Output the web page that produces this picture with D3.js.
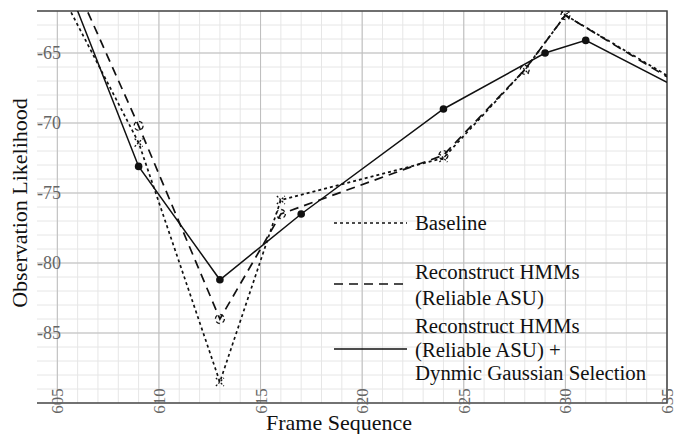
<!DOCTYPE html>
<html>
<head>
<meta charset="utf-8">
<script src="https://cdn.jsdelivr.net/npm/d3@7"></script>
<style>
  body { margin: 0; background: #fff; }
  text { font-family: "Liberation Serif", "DejaVu Serif", serif; }
</style>
</head>
<body>
<div id="chart"></div>
<script>
var svgWidth = 675;
var svgHeight = 434;

var margin = { top: 11, right: 8, bottom: 31, left: 37 };
var width = svgWidth - margin.left - margin.right;
var height = svgHeight - margin.top - margin.bottom;

// Data
var frames = [605, 609, 613, 616, 624, 628, 630, 635];
var baseline = [-60.2, -71.4, -88.5, -75.5, -72.5, -66.2, -62.3, -66.6];
var reconstruct = [-57.2, -70.2, -84.0, -76.5, -72.3, -66.2, -62.3, -66.7];

var dgsFrames = [605, 609, 613, 617, 624, 629, 631, 635];
var dgs = [-58.3, -73.1, -81.2, -76.5, -69.0, -65.0, -64.1, -67.1];

var xTicks = [605, 610, 615, 620, 625, 630, 635];
var yTicks = [-65, -70, -75, -80, -85];

var legendLabels = [
  ["Baseline"],
  ["Reconstruct HMMs", "(Reliable ASU)"],
  ["Reconstruct HMMs", "(Reliable ASU) +", "Dynmic Gaussian Selection"]
];

var svg = d3.select("#chart")
  .append("svg")
  .attr("width", svgWidth)
  .attr("height", svgHeight);

var chartGroup = svg.append("g")
  .attr("transform", `translate(${margin.left}, ${margin.top})`);

var x = d3.scaleLinear().domain([604, 635]).range([0, width]);
var y = d3.scaleLinear().domain([-90, -62]).range([height, 0]);

// minor grid
chartGroup.append("g")
  .selectAll("line")
  .data(d3.range(605, 635))
  .enter().append("line")
  .attr("x1", d => x(d)).attr("x2", d => x(d))
  .attr("y1", 0).attr("y2", height)
  .attr("stroke", "#e6e6e6").attr("stroke-width", 1);

chartGroup.append("g")
  .selectAll("line")
  .data(d3.range(-89, -61))
  .enter().append("line")
  .attr("y1", d => y(d)).attr("y2", d => y(d))
  .attr("x1", 0).attr("x2", width)
  .attr("stroke", "#e6e6e6").attr("stroke-width", 1);

// major grid
chartGroup.append("g")
  .selectAll("line")
  .data(xTicks)
  .enter().append("line")
  .attr("x1", d => x(d)).attr("x2", d => x(d))
  .attr("y1", 0).attr("y2", height)
  .attr("stroke", "#bdbdbd").attr("stroke-width", 1);

chartGroup.append("g")
  .selectAll("line")
  .data(yTicks)
  .enter().append("line")
  .attr("y1", d => y(d)).attr("y2", d => y(d))
  .attr("x1", 0).attr("x2", width)
  .attr("stroke", "#bdbdbd").attr("stroke-width", 1);

// frame: top, right, bottom
chartGroup.append("path")
  .attr("d", `M0,0H${width}V${height}H0`)
  .attr("fill", "none")
  .attr("stroke", "#444")
  .attr("stroke-width", 1.5);

// tick labels
chartGroup.append("g")
  .selectAll("text")
  .data(yTicks)
  .enter().append("text")
  .attr("x", 0)
  .attr("y", d => y(d))
  .attr("dy", "0.35em")
  .attr("font-size", "18px")
  .attr("fill", "#666")
  .text(d => d);

chartGroup.append("g")
  .selectAll("text")
  .data(xTicks)
  .enter().append("text")
  .attr("transform", d => `translate(${x(d) + 6}, ${height - 2}) rotate(-90)`)
  .attr("text-anchor", "middle")
  .attr("font-size", "17px")
  .attr("fill", "#666")
  .text(d => d);

// clip
svg.append("defs").append("clipPath")
  .attr("id", "plotclip")
  .append("rect")
  .attr("width", width).attr("height", height);

var plot = chartGroup.append("g").attr("clip-path", "url(#plotclip)");

var line = d3.line()
  .x(d => x(d[0]))
  .y(d => y(d[1]));

var baseData = frames.map((f, i) => [f, baseline[i]]);
var recData = frames.map((f, i) => [f, reconstruct[i]]);
var dgsData = dgsFrames.map((f, i) => [f, dgs[i]]);

var ink = "#111";

plot.append("path")
  .datum(baseData)
  .attr("d", line)
  .attr("fill", "none")
  .attr("stroke", ink)
  .attr("stroke-width", 1.7)
  .attr("stroke-dasharray", "3,3");

plot.append("path")
  .datum(recData)
  .attr("d", line)
  .attr("fill", "none")
  .attr("stroke", ink)
  .attr("stroke-width", 1.7)
  .attr("stroke-dasharray", "9,6");

plot.append("path")
  .datum(dgsData)
  .attr("d", line)
  .attr("fill", "none")
  .attr("stroke", ink)
  .attr("stroke-width", 1.5);

// markers
plot.append("g")
  .selectAll("path")
  .data(baseData.slice(1, -1))
  .enter().append("path")
  .attr("d", d => {
    var cx = x(d[0]), cy = y(d[1]), s = 4;
    return `M${cx - s},${cy - s}L${cx + s},${cy + s}M${cx - s},${cy + s}L${cx + s},${cy - s}`;
  })
  .attr("stroke", ink)
  .attr("stroke-width", 1.3)
  .attr("stroke-dasharray", "2,1.5");

plot.append("g")
  .selectAll("circle")
  .data(recData.slice(1, -1))
  .enter().append("circle")
  .attr("cx", d => x(d[0]))
  .attr("cy", d => y(d[1]))
  .attr("r", 4.5)
  .attr("fill", "none")
  .attr("stroke", ink)
  .attr("stroke-width", 1.3)
  .attr("stroke-dasharray", "4,3");

plot.append("g")
  .selectAll("circle")
  .data(dgsData.slice(1, -1))
  .enter().append("circle")
  .attr("cx", d => x(d[0]))
  .attr("cy", d => y(d[1]))
  .attr("r", 3.8)
  .attr("fill", ink);

// legend
var legendY = [223, 284, 349];
var legendTextY = [[223], [272, 298], [326, 350, 373]];
var legendDash = ["3,3", "9,6", null];

var legend = svg.append("g");
legendLabels.forEach(function(lines, i) {
  legend.append("line")
    .attr("x1", 334).attr("x2", 407)
    .attr("y1", legendY[i]).attr("y2", legendY[i])
    .attr("stroke", ink)
    .attr("stroke-width", 1.7)
    .attr("stroke-dasharray", legendDash[i]);
  lines.forEach(function(t, j) {
    legend.append("text")
      .attr("x", 415)
      .attr("y", legendTextY[i][j])
      .attr("dy", "0.35em")
      .attr("font-size", "20.8px")
      .attr("fill", ink)
      .text(t);
  });
});

// axis titles
svg.append("text")
  .attr("x", 339)
  .attr("y", 430)
  .attr("text-anchor", "middle")
  .attr("font-size", "22px")
  .attr("fill", ink)
  .text("Frame Sequence");

svg.append("text")
  .attr("transform", "translate(27, 203) rotate(-90)")
  .attr("text-anchor", "middle")
  .attr("font-size", "22px")
  .attr("fill", ink)
  .text("Observation Likelihood");
</script>
</body>
</html>
